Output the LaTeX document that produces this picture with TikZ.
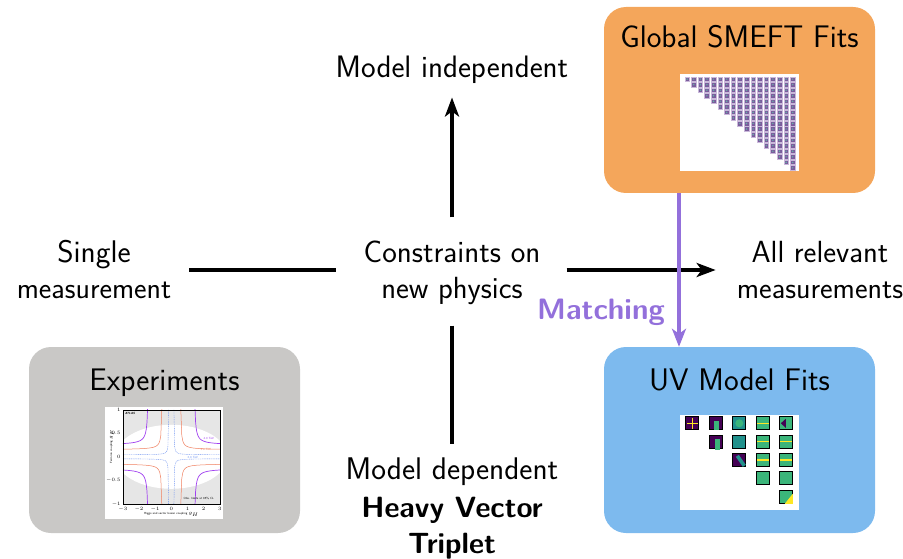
\documentclass[tikz,border=0pt]{standalone}
\usepackage{tikz}
\usetikzlibrary{arrows.meta,positioning,calc}
\definecolor{fborange}{HTML}{F4A65B}
\definecolor{fbgrey}{HTML}{C9C8C6}
\definecolor{fbblue}{HTML}{7DBAEE}
\definecolor{fbpurple}{HTML}{9370DB}
\definecolor{smcell}{HTML}{7B5C9C}
\definecolor{smedge}{HTML}{C9B8DA}
\definecolor{smdot}{HTML}{62B6A8}
\definecolor{vdark}{HTML}{440154}
\definecolor{vteal}{HTML}{21918C}
\definecolor{vgreen}{HTML}{3BB57A}
\definecolor{vyellow}{HTML}{FDE725}
\definecolor{plgrey}{HTML}{E6E6E6}
\definecolor{plpurple}{HTML}{A040F0}
\definecolor{plred}{HTML}{F08060}
\definecolor{plblue}{HTML}{6A8FF0}
\newcommand\sz[2]{{\fontsize{#1}{36}\selectfont #2}}
\newcommand\boldline[1]{\textbf{\fontsize{29.3}{36}\selectfont #1}}

\begin{document}
\begin{tikzpicture}[x=1pt,y=-1pt,
  every node/.style={font=\sffamily\fontsize{31}{36}\selectfont,align=center,inner sep=0pt},
  flow/.style={line width=4.5pt},
  tip/.style={-{Stealth[length=19pt,width=14pt,inset=5pt]}},
  panel/.style={rounded corners=22pt,minimum width=271pt,minimum height=186pt},
  shot/.style={fill=white},
  tiny/.style={font=\sffamily\fontsize{3}{3.5}\selectfont}]
  \useasboundingbox (0,0) rectangle (903,559);

  % the cross of text and arrows
  \node (centre) at (452,272.5) {Constraints on\\\sz{30.6}{new physics}};
  \node (single) at (94,270) {\sz{31.3}{Single}\\\sz{29.8}{measurement}};
  \node (allrel) at (820,270) {\sz{30.6}{All relevant}\\\sz{30}{measurements}};
  \node (indep) at (452,69.5) {Model independent};
  \node (dep) at (452,508.3) {\sz{31.3}{Model dependent}\\[2pt]\boldline{Heavy Vector}\\\boldline{Triplet}};

  \draw[flow,shorten <=18pt,shorten >=27pt] (single.east) -- (single.east -| centre.west);
  \draw[flow,tip,shorten <=26pt,shorten >=21pt] (allrel.west -| centre.east) -- (allrel.west);
  \draw[flow,tip,shorten <=23pt,shorten >=14pt] (centre.north) -- (indep.south);
  \draw[flow,shorten <=21pt,shorten >=13pt] (centre.south) -- (dep.north);

  % panels
  \node[panel,fill=fborange] (smeft) at (739.5,100) {};
  \node[panel,fill=fbgrey] (exp) at (164.5,440) {};
  \node[panel,fill=fbblue] (uv) at (739.5,440) {};
  \node[anchor=base] (smefttitle) at (739.5,48) {\sz{31.2}{Global SMEFT Fits}};
  \node[anchor=base] (exptitle) at (164.5,390) {\sz{31.2}{Experiments}};
  \node[anchor=base] (uvtitle) at (739.5,390) {\sz{31.2}{UV Model Fits}};

  \node[shot,minimum width=119pt,minimum height=97pt] (smimg) at (739.5,122.5) {};
  \node[shot,minimum width=118pt,minimum height=112pt] (expimg) at (164,463) {};
  \node[shot,minimum width=119pt,minimum height=95pt] (uvimg) at (739.5,462.5) {};

  % correlation triangle
  \begin{scope}[shift={(smimg.north west)}]
    \foreach \r in {0,...,16}{
      \foreach \c in {\r,...,16}{
        \filldraw[fill=smcell,draw=smedge,line width=0.5pt] ({5+6.6*\c},{3+5.55*\r}) rectangle ++(4.6,4.6);
        \fill[smdot] ({7.3+6.6*\c},{5.3+5.55*\r}) circle (0.8);
      }}
  \end{scope}

  % exclusion plot
  \begin{scope}[shift={(expimg.north west)}]
    \fill[plgrey] (18,3) rectangle (115,97);
    \begin{scope}
      \clip (18,3) rectangle (115,97);
      \fill[white] (66.5,50) ellipse (56 and 32);
      \begin{scope}[shift={(66.5,50)},x=16.17pt,y=-47pt]
        \foreach \sx/\sy in {1/1,1/-1,-1/1,-1/-1}{
          \draw[plpurple,line width=0.7pt,xscale=\sx,yscale=\sy]
            plot[domain=1.46:3.1,samples=40] (\x,{0.25+0.05/(\x-1.4)});
          \draw[plred,line width=0.5pt,xscale=\sx,yscale=\sy]
            plot[domain=0.583:3.1,samples=40] (\x,{0.15+0.03/(\x-0.55)});
          \draw[plblue,line width=0.4pt,dash pattern=on 1pt off 0.8pt,xscale=\sx,yscale=\sy]
            plot[domain=0.16:3.1,samples=60] (\x,{0.04+0.01/(\x-0.15)});
        }
      \end{scope}
    \end{scope}
    \draw[line width=0.4pt] (18,3) rectangle (115,97);
    \foreach \v [count=\i from 0] in {-3,-2,-1,0,1,2,3}
      \node[tiny] at ({18+16.17*\i},102) {$\v$};
    \foreach \v [count=\i from 0] in {1,0.5,0,-0.5,-1}
      \node[tiny,anchor=east] at (16,{3+23.5*\i}) {$\v$};
    \node[tiny,anchor=north west] at (20,5) {\textbf{\textit{ATLAS}}};
    \node[tiny,text=plpurple] at (104,32) {4.0 TeV};
    \node[tiny,text=plred] at (101,43) {3.0 TeV};
    \node[tiny,text=plblue] at (88,51) {2.0 TeV};
    \node[tiny] at (94,92) {Obs. limits at 95\% CL};
    \node[tiny] at (66.5,107.5) {Higgs and vector boson coupling $g_H$};
    \node[tiny,rotate=90] at (7,40) {Fermion coupling $g_F$};
  \end{scope}

  % posterior grid
  \begin{scope}[shift={(uvimg.north west)}]
    \foreach \r/\c/\cl in {0/0/vdark,0/1/vdark,0/2/vteal,0/3/vgreen,0/4/vgreen,
                          1/1/vdark,1/2/vteal,1/3/vgreen,1/4/vgreen,
                          2/2/vdark,2/3/vgreen,2/4/vgreen,
                          3/3/vgreen,3/4/vgreen,4/4/vgreen}
      \filldraw[fill=\cl,draw=black,line width=0.9pt] ({6+23.5*\c},{2+18.3*\r}) rectangle ++(13,13);
    \foreach \r/\c in {0/3,1/3,1/4,2/3,2/4}
      \fill[vyellow] ({6.5+23.5*\c},{7.8+18.3*\r}) rectangle ++(12,1.4);
    \fill[vyellow] (7,8.2) rectangle ++(11,0.8);
    \fill[vyellow] (12.2,3) rectangle ++(0.8,11);
    \fill[vgreen] (34,6) rectangle ++(5,9);
    \fill[vgreen] (59.5,8.5) circle (4);
    \fill[vgreen] (35.5,24) rectangle ++(5,11);
    \fill[vteal] (56,42) -- (59,40) -- (66,50) -- (63,52) -- cycle;
    \fill[vyellow] (105,89) -- (113,89) -- (113,79) -- cycle;
    \fill[vdark] (101,8.5) -- (106,4) -- (106,13) -- cycle;
  \end{scope}

  % matching
  \coordinate (mtop) at ([xshift=-60.5pt]smeft.south);
  \draw[fbpurple,line width=3.5pt,-{Stealth[length=18pt,width=14pt,inset=5pt]}] (mtop) -- (mtop |- uv.north);
  \node[anchor=base east,text=fbpurple,font=\sffamily\fontsize{29.5}{36}\selectfont] (matchlbl) at (665,319) {\textbf{Matching}};
\end{tikzpicture}
\end{document}
